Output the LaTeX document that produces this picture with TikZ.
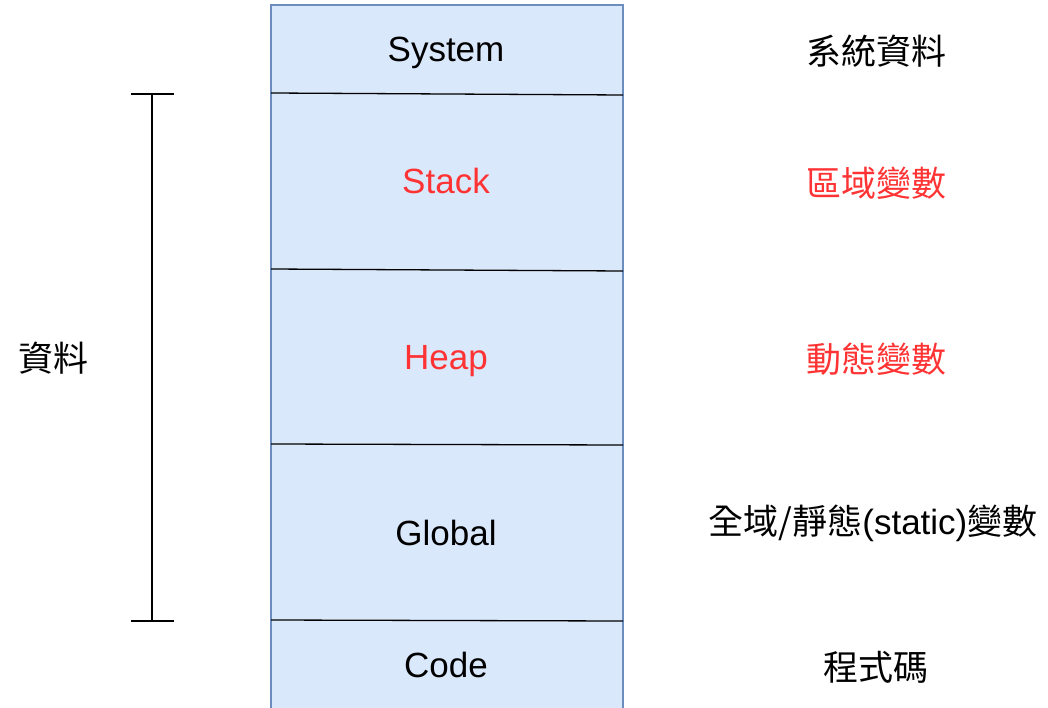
\documentclass[tikz,border=0pt]{standalone}
\usepackage{fontspec}
\setmainfont{Liberation Sans}
\newfontfamily\cjk{Noto Sans CJK TC}
\definecolor{boxfill}{HTML}{DAE8FC}
\definecolor{boxdraw}{HTML}{6C8EBF}
\definecolor{redtxt}{HTML}{FF3333}
\begin{document}
\begin{tikzpicture}[x=1pt,y=-1pt,
  lbl/.style={font=\fontsize{35}{40}\selectfont, inner sep=0pt, anchor=center, text height=25pt, text depth=0pt},
  clbl/.style={font=\cjk\fontsize{35}{40}\selectfont, inner sep=0pt, anchor=center},
  sep/.style={draw=black, line width=1.3pt},
  bracket/.style={draw=black, line width=1.5pt}]
\useasboundingbox (0,0) rectangle (1048,708);
\fill[boxfill] (271,5) rectangle (623,712);
\draw[boxdraw, line width=1.3pt] (271,712) -- (271,5) -- (623,5) -- (623,712);
\coordinate (l1a) at (271,93); \coordinate (l1b) at (623,95);
\coordinate (l2a) at (271,269); \coordinate (l2b) at (623,271);
\coordinate (l3a) at (271,444); \coordinate (l3b) at (623,445);
\coordinate (l4a) at (271,620); \coordinate (l4b) at (623,621);
\draw[sep] (l1a) -- (l1b);
\draw[sep] (l2a) -- (l2b);
\draw[sep] (l3a) -- (l3b);
\draw[sep] (l4a) -- (l4b);
\node[lbl] (sys) at (446,49) {System};
\node[lbl, text=redtxt] (stk) at (446,181) {Stack};
\node[lbl, text=redtxt] (hp) at (446,357) {Heap};
\node[lbl] (glb) at (446,533) {Global};
\node[lbl] (cod) at (446,665) {Code};
\node[clbl] (sysz) at (876,51) {系統資料};
\node[clbl, text=redtxt] (stkz) at (876,183) {區域變數};
\node[clbl, text=redtxt] (hpz) at (876,359) {動態變數};
\node[clbl] (glbz) at (873,523) {全域/靜態{\fontsize{35}{40}\selectfont\rmfamily(static)}變數};
\node[clbl] (codz) at (876,667) {程式碼};
\node[clbl] (data) at (53,358) {資料};
\coordinate (bt) at (152,94); \coordinate (bb) at (152,621);
\coordinate (btl) at (131,94); \coordinate (btr) at (174,94);
\coordinate (bbl) at (131,621); \coordinate (bbr) at (174,621);
\draw[bracket] (bt) -- (bb);
\draw[bracket] (btl) -- (btr);
\draw[bracket] (bbl) -- (bbr);
\end{tikzpicture}
\end{document}
